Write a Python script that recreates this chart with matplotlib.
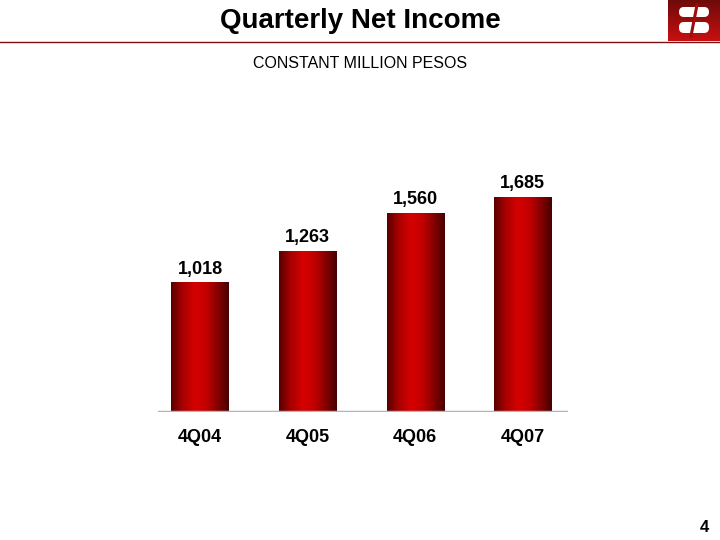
import matplotlib
matplotlib.use('Agg')
import matplotlib.pyplot as plt
import numpy as np
from matplotlib.colors import LinearSegmentedColormap
from matplotlib.patches import FancyBboxPatch

plt.rcParams['font.family'] = ['Liberation Sans', 'DejaVu Sans']

# ─── data ────────────────────────────────────────────────────────────────
quarters = ['4Q04', '4Q05', '4Q06', '4Q07']
net_income = [1018, 1263, 1560, 1685]
value_labels = ['1,018', '1,263', '1,560', '1,685']

TITLE = 'Quarterly Net Income'
SUBTITLE = 'CONSTANT MILLION PESOS'
PAGE = '4'

# bar shading: dark edges, bright red just left of centre
bar_cmap = LinearSegmentedColormap.from_list(
    'bar', [(0.0, '#580000'), (0.2, '#a80000'), (0.42, '#d60000'),
            (0.62, '#c00000'), (0.85, '#780000'), (1.0, '#460000')])

fig = plt.figure(figsize=(7.2, 5.4), dpi=100)

# decoration layer in pixel coordinates
deco = fig.add_axes([0, 0, 1, 1])
deco.axis('off')

deco.text(360, 21, TITLE, ha='center', va='center', fontsize=20,
          fontweight='bold', color='black')
deco.plot([0, 720], [42, 42], color='#7a1010', lw=1.0)
deco.text(360, 64, SUBTITLE, ha='center', va='center', fontsize=11.5,
          color='black')
deco.text(704, 527, PAGE, ha='center', va='center', fontsize=12,
          fontweight='bold', color='black')

# logo box
logo_grad = np.linspace(0, 1, 50).reshape(-1, 1)
deco.imshow(logo_grad, extent=[668, 720, 41, 0], aspect='auto',
            cmap=LinearSegmentedColormap.from_list('logo', ['#6e0a0a', '#c81010']),
            zorder=2)
deco.add_patch(FancyBboxPatch((679, 7), 30, 10, boxstyle='round,pad=0,rounding_size=5',
                              fc='white', ec='none', zorder=3))
deco.add_patch(FancyBboxPatch((679, 22), 30, 11, boxstyle='round,pad=0,rounding_size=5',
                              fc='white', ec='none', zorder=3))
deco.plot([697, 691], [5, 36], color='#a00c0c', lw=2.2, zorder=4)
deco.set_xlim(0, 720)
deco.set_ylim(540, 0)

# chart axes: baseline at y=411 px, 0.1275 px per unit
ymax = 2000
ax_h = ymax * 0.1275
ax = fig.add_axes([158 / 720, (540 - 412) / 540, 410 / 720, ax_h / 540])
ax.axis('off')

x = np.arange(len(quarters))
bars = ax.bar(x, net_income, width=0.53, color='none', edgecolor='none')
grad = np.linspace(0, 1, 256).reshape(1, -1)
for b in bars:
    im = ax.imshow(grad, extent=[b.get_x(), b.get_x() + b.get_width(), 0, b.get_height()],
                   aspect='auto', cmap=bar_cmap, zorder=2)
    im.set_clip_path(b)

ax.set_xlim(-0.39, 3.42)
ax.set_ylim(0, ymax)
ax.axhline(0, color='#b4b4b4', lw=2.5, zorder=3)

for xi, v, lab in zip(x, net_income, value_labels):
    ax.annotate(lab, (xi, v), xytext=(0, 9.5), textcoords='offset points',
                ha='center', va='center', fontsize=13, fontweight='bold')
    ax.annotate(quarters[xi], (xi, 0), xytext=(0, -18), textcoords='offset points',
                ha='center', va='center', fontsize=13, fontweight='bold',
                annotation_clip=False)

fig.savefig('out.png', dpi=100)
